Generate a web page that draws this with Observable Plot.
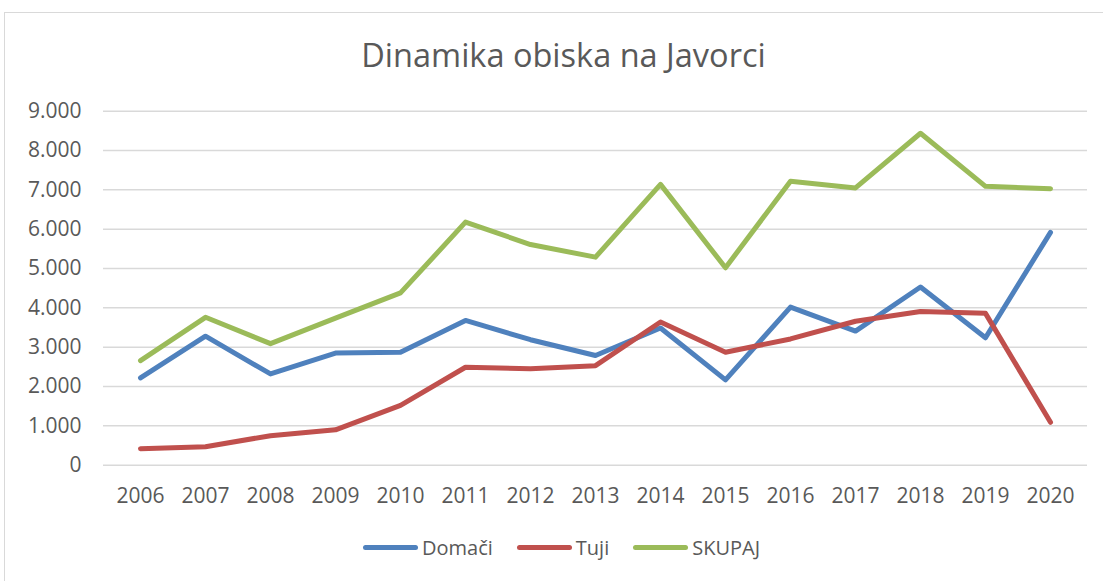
<!DOCTYPE html>
<html>
<head>
<meta charset="utf-8">
<script src="https://cdn.jsdelivr.net/npm/d3@7"></script>
<script src="https://cdn.jsdelivr.net/npm/@observablehq/plot@0.6"></script>
<style>
  html, body { margin: 0; padding: 0; background: #fff; }
  #wrap { position: relative; width: 1103px; height: 581px; overflow: hidden; font-family: "Open Sans", sans-serif; color: #595959; }
  #frame { position: absolute; left: 4px; top: 12px; width: 1110px; height: 600px; border: 1px solid #d9d9d9; box-sizing: border-box; }
  #title { position: absolute; left: 0; width: 1127px; top: 32px; text-align: center; font-size: 32.5px; font-family: "Open Sans", sans-serif; font-weight: 400; white-space: nowrap; color: #595959; }
  #chart { position: absolute; left: 0; top: 0; }
  #legend { position: absolute; left: 363px; top: 534px; display: flex; align-items: center; font-size: 20px; white-space: nowrap; }
  .item { display: flex; align-items: center; margin-right: 24px; }
  .sw { width: 55px; height: 5px; border-radius: 3px; margin-right: 4px; }
</style>
</head>
<body>
<div id="wrap">
  <div id="frame"></div>
  <div id="title">Dinamika obiska na Javorci</div>
  <div id="chart"></div>
  <div id="legend"></div>
</div>
<script>
const years = ["2006","2007","2008","2009","2010","2011","2012","2013","2014","2015","2016","2017","2018","2019","2020"];
const domaci = [2220,3280,2320,2850,2870,3680,3190,2790,3490,2170,4020,3410,4530,3240,5920];
const tuji   = [420,470,750,900,1520,2490,2450,2530,3640,2870,3210,3660,3910,3860,1090];
const skupaj = [2660,3760,3090,3740,4380,6180,5610,5290,7140,5020,7220,7050,8440,7090,7030];
const seriesNames = ["Domači","Tuji","SKUPAJ"];
const seriesColors = ["#4f81bd","#c0504d","#9bbb59"];
const yTicks = [0,1000,2000,3000,4000,5000,6000,7000,8000,9000];
const yTickLabels = ["0","1.000","2.000","3.000","4.000","5.000","6.000","7.000","8.000","9.000"];

const seriesValues = [domaci, tuji, skupaj];
const data = [];
seriesNames.forEach((s, i) => years.forEach((y, j) => data.push({series: s, year: y, value: seriesValues[i][j]})));

const chart = Plot.plot({
  width: 1103,
  height: 530,
  marginLeft: 103,
  marginRight: 16,
  marginTop: 110.7,
  marginBottom: 65.3,
  style: {fontFamily: "Open Sans, sans-serif", fontSize: "21px", color: "#595959", background: "transparent", overflow: "visible"},
  x: {type: "point", domain: years, padding: 0.5, label: null},
  y: {domain: [0, 9000], label: null},
  color: {domain: seriesNames, range: seriesColors},
  marks: [
    Plot.gridY(yTicks, {stroke: "#d9d9d9", strokeOpacity: 1, strokeWidth: 1.5}),
    Plot.axisY(yTicks, {tickSize: 0, tickPadding: 22, tickFormat: d => yTickLabels[yTicks.indexOf(d)], fill: "#595959", fontSize: 21, label: null}),
    Plot.axisX({tickSize: 0, tickPadding: 23, fill: "#595959", fontSize: 21, label: null}),
    Plot.line(data, {x: "year", y: "value", z: "series", stroke: "series", strokeWidth: 5, strokeLinecap: "round", strokeLinejoin: "round"})
  ]
});
document.getElementById("chart").appendChild(chart);

const legend = document.getElementById("legend");
seriesNames.forEach((s, i) => {
  const it = document.createElement("div");
  it.className = "item";
  const sw = document.createElement("div");
  sw.className = "sw";
  sw.style.background = seriesColors[i];
  const t = document.createElement("span");
  t.textContent = s;
  it.appendChild(sw); it.appendChild(t);
  legend.appendChild(it);
});
</script>
</body>
</html>
